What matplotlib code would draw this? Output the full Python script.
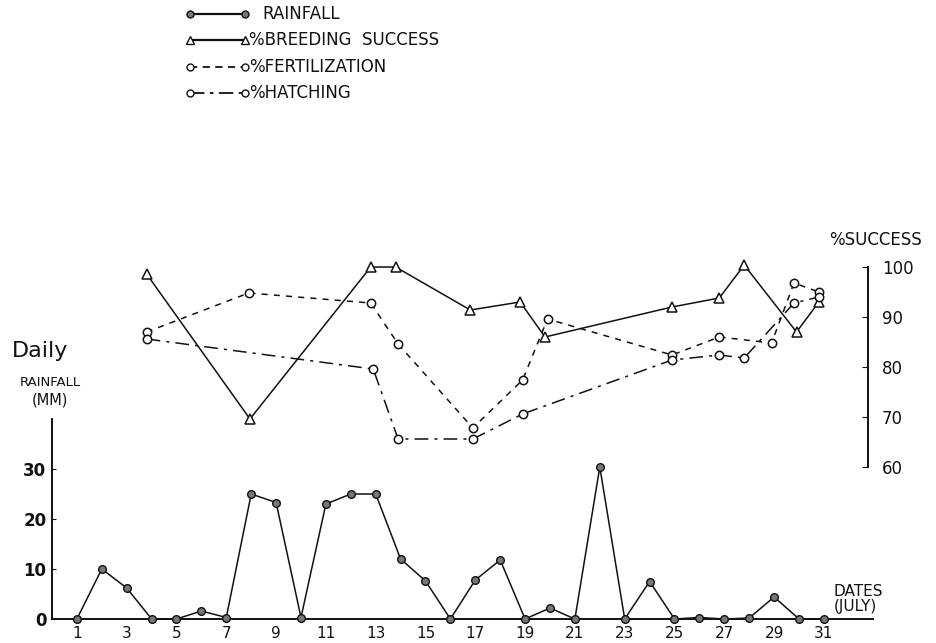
import matplotlib
matplotlib.use("Agg")
import matplotlib.pyplot as plt

plt.rcParams['font.family'] = ['Liberation Sans Narrow', 'DejaVu Sans']

# ---- data ----
rain_days = list(range(1, 32))
rain_mm = [0, 10, 6.2, 0, 0, 1.6, 0.3, 25, 23.3, 0.3, 23, 25, 25, 12, 7.6, 0,
           7.8, 11.8, 0, 2.2, 0, 30.4, 0, 7.5, 0, 0.3, 0, 0.2, 4.4, 0, 0]

breed_days = [3.8, 7.95, 12.8, 13.8, 16.8, 18.8, 19.8, 24.9, 26.8, 27.8, 29.9, 30.8]
breed_pct = [98.6, 69.6, 100, 100, 91.4, 93, 86, 92, 93.8, 100.4, 87, 93]

fert_days = [3.8, 7.9, 12.8, 13.9, 16.9, 18.9, 19.9, 24.9, 26.8, 28.9, 29.8, 30.8]
fert_pct = [87, 94.8, 92.8, 84.6, 67.8, 77.4, 89.6, 82.4, 86, 84.8, 96.8, 95]

hatch_days = [3.8, 12.9, 13.9, 16.9, 18.9, 24.9, 26.8, 27.8, 29.8, 30.8]
hatch_pct = [85.6, 79.6, 65.6, 65.6, 70.6, 81.4, 82.4, 81.8, 92.8, 94]

date_ticks = list(range(1, 32, 2))
rain_ticks = [0, 10, 20, 30]
pct_ticks = [60, 70, 80, 90, 100]

# ---- layout (pixels) ----
W, H = 937, 643
fig = plt.figure(figsize=(W / 100, H / 100), dpi=100)
px_per_day = 24.9
x0 = 52  # left spine pixel (day 0)

def fx(px):
    return px / W

def fy(py):
    return 1 - py / H

ink = '#111111'

# rainfall axes
axr = fig.add_axes([fx(x0), fy(619), (873 - x0) / W, (619 - 419) / H])
axr.set_xlim(0, (873 - x0) / px_per_day)
axr.set_ylim(0, 40)
axr.plot(rain_days, rain_mm, '-', color=ink, lw=1.1, marker='o', ms=5.5,
         mfc='#777777', mec=ink, mew=1.0, clip_on=False, zorder=3)
for s in ['top', 'right']:
    axr.spines[s].set_visible(False)
axr.spines['left'].set_color(ink)
axr.spines['bottom'].set_color(ink)
axr.spines['left'].set_linewidth(1.4)
axr.spines['bottom'].set_linewidth(1.4)
axr.set_xticks(date_ticks)
axr.set_xticklabels([str(d) for d in date_ticks], fontsize=11)
axr.tick_params(axis='x', length=0, pad=5, colors=ink)
axr.set_yticks(rain_ticks)
axr.set_yticklabels([str(v) for v in rain_ticks], fontsize=12, fontweight='bold')
axr.tick_params(axis='y', direction='in', length=3, pad=4, colors=ink)
axr.patch.set_alpha(0)

# success axes
axs = fig.add_axes([fx(x0), fy(467), (868 - x0) / W, (467 - 267) / H])
axs.set_xlim(0, (868 - x0) / px_per_day)
axs.set_ylim(60, 100)
axs.plot(breed_days, breed_pct, '-', color=ink, lw=1.1, marker='^', ms=7,
         mfc='white', mec=ink, mew=1.1, clip_on=False, zorder=3)
axs.plot(fert_days, fert_pct, color=ink, lw=1.1, dashes=(4, 4), marker='o', ms=6,
         mfc='white', mec=ink, mew=1.1, clip_on=False, zorder=3)
axs.plot(hatch_days, hatch_pct, color=ink, lw=1.1, dashes=(9, 4, 2, 4), marker='o',
         ms=6, mfc='white', mec=ink, mew=1.1, clip_on=False, zorder=3)
for s in ['top', 'left', 'bottom']:
    axs.spines[s].set_visible(False)
axs.spines['right'].set_color(ink)
axs.spines['right'].set_linewidth(1.4)
axs.set_xticks([])
axs.yaxis.tick_right()
axs.set_yticks(pct_ticks)
axs.set_yticklabels([str(v) for v in pct_ticks], fontsize=12)
axs.tick_params(axis='y', direction='in', length=4, pad=10, colors=ink)
axs.patch.set_alpha(0)

# axis labels
fig.text(fx(40), fy(351), 'Daily', fontsize=16, ha='center', va='center', color=ink,
         family=['DejaVu Sans'])
fig.text(fx(50), fy(382), 'RAINFALL', fontsize=9.5, ha='center', va='center', color=ink)
fig.text(fx(50), fy(400), '(MM)', fontsize=10.5, ha='center', va='center', color=ink)
fig.text(fx(876), fy(240), '%SUCCESS', fontsize=12, ha='center', va='center', color=ink)
fig.text(fx(834), fy(599), 'DATES\n(JULY)', fontsize=11, ha='left', va='center',
         color=ink, linespacing=0.95)

# legend (drawn in pixel coords on an overlay)
axl = fig.add_axes([0, 0, 1, 1])
axl.set_xlim(0, W)
axl.set_ylim(H, 0)
axl.axis('off')
leg_y = [14, 40, 67, 93]
lx0, lx1 = 190, 245
axl.plot([lx0, lx1], [leg_y[0]] * 2, '-', color=ink, lw=1.6, marker='o', ms=5,
         mfc='#777777', mec=ink)
axl.plot([lx0, lx1], [leg_y[1]] * 2, '-', color=ink, lw=1.6, marker='^', ms=6,
         mfc='white', mec=ink)
axl.plot([lx0, lx1], [leg_y[2]] * 2, color=ink, lw=1.3, dashes=(4, 3), marker='o',
         ms=5, mfc='white', mec=ink)
axl.plot([lx0, lx1], [leg_y[3]] * 2, color=ink, lw=1.3, dashes=(8, 3, 2, 3),
         marker='o', ms=5, mfc='white', mec=ink)
axl.text(262, leg_y[0], 'RAINFALL', fontsize=12, va='center', ha='left', color=ink)
axl.text(249, leg_y[1], '%BREEDING  SUCCESS', fontsize=12, va='center', ha='left', color=ink)
axl.text(249, leg_y[2], '%FERTILIZATION', fontsize=12, va='center', ha='left', color=ink)
axl.text(249, leg_y[3], '%HATCHING', fontsize=12, va='center', ha='left', color=ink)

fig.savefig('out.png', dpi=100)
